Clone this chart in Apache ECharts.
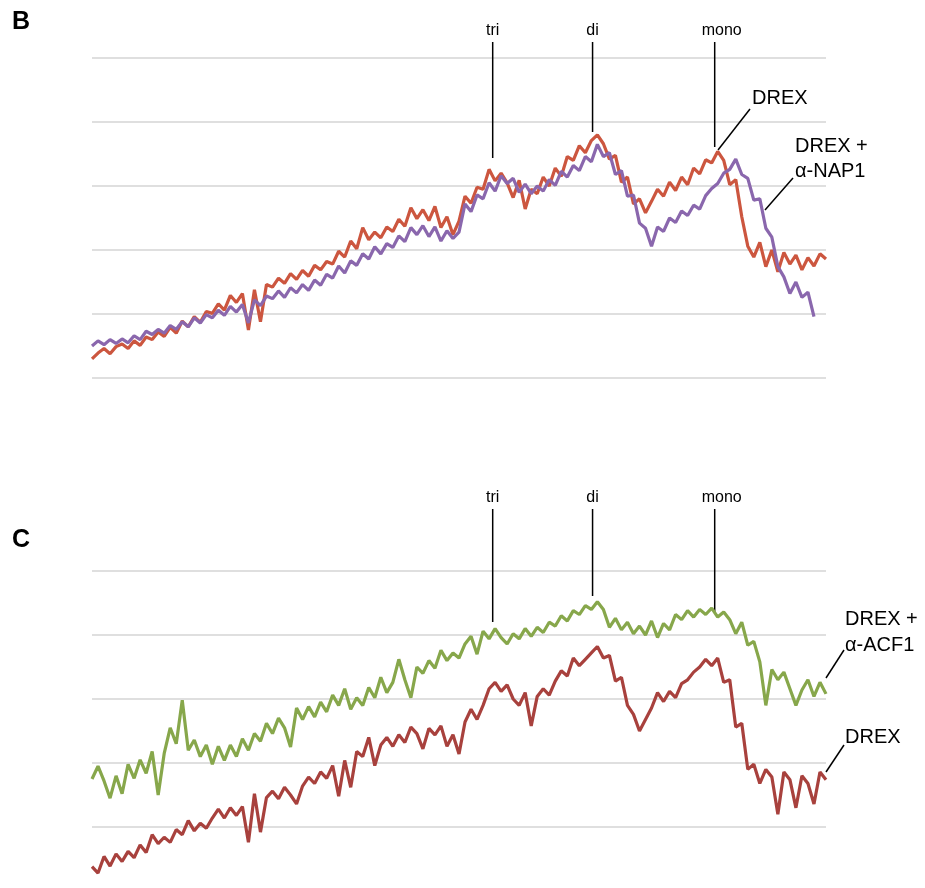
<!DOCTYPE html>
<html>
<head>
<meta charset="utf-8">
<script src="https://cdn.jsdelivr.net/npm/echarts@6/dist/echarts.min.js"></script>
<style>
html,body{margin:0;padding:0;background:#fff}
#chart{width:925px;height:888px}
</style>
</head>
<body>
<div id="chart"></div>
<script>
// panel B traces (arbitrary absorbance units, 10 per gridline)
const drexB = [
  3.0, 3.9, 4.6, 3.8, 4.9, 5.3, 4.6, 5.8, 5.1, 6.4,
  6.0, 7.2, 6.5, 7.9, 7.0, 8.9, 8.0, 9.6, 8.7, 10.4,
  10.1, 11.6, 10.6, 12.9, 11.8, 13.2, 7.5, 13.8, 8.8, 14.6,
  14.2, 15.6, 14.8, 16.3, 15.4, 16.8, 15.9, 17.6, 16.9, 18.2,
  17.8, 19.8, 18.9, 21.4, 20.2, 23.5, 21.6, 22.8, 21.9, 23.6,
  22.9, 24.8, 23.7, 26.6, 24.9, 26.3, 24.6, 26.8, 23.5, 25.2,
  22.4, 24.5, 28.4, 27.3, 29.8, 29.5, 32.6, 30.8, 32.0, 30.5,
  28.2, 30.9, 26.4, 29.5, 28.8, 31.4, 30.0, 32.8, 31.5, 34.6,
  34.0, 36.3, 35.2, 37.1, 38.0, 36.6, 34.2, 34.8, 30.6, 31.4,
  27.2, 28.0, 25.8, 27.6, 29.5, 28.4, 30.6, 29.3, 31.4, 30.2,
  32.8, 31.9, 34.1, 33.6, 35.4, 34.0, 30.2, 31.0, 25.2, 20.6,
  18.9, 21.2, 17.4, 20.0, 16.6, 19.6, 17.8, 19.2, 16.9, 18.8,
  17.5, 19.4, 18.6
];
const nap1B = [
  5.0, 5.8, 5.2, 6.0, 5.4, 6.1, 5.5, 6.6, 6.0, 7.3,
  6.8, 7.6, 7.0, 8.2, 7.6, 8.8, 8.0, 9.4, 8.6, 9.9,
  9.4, 10.6, 9.8, 11.2, 10.3, 11.5, 8.6, 12.2, 11.3, 12.8,
  12.4, 13.6, 12.6, 14.1, 13.3, 14.6, 13.7, 15.3, 14.5, 16.2,
  15.6, 17.5, 16.4, 18.3, 17.6, 19.4, 18.6, 20.5, 19.4, 21.0,
  20.4, 22.2, 21.3, 23.5, 22.4, 23.8, 22.1, 23.6, 21.4, 23.0,
  21.8, 22.8, 27.2, 26.0, 28.6, 28.0, 30.5, 29.2, 31.6, 30.4,
  31.2, 29.0, 30.3, 28.8, 30.0, 29.2, 31.0, 30.1, 32.3, 31.4,
  33.2, 32.4, 34.6, 33.8, 36.5, 34.6, 35.2, 31.8, 32.4, 28.4,
  28.6, 24.2, 23.4, 20.6, 23.6, 22.9, 25.0, 24.3, 26.1, 25.4,
  27.0, 26.4, 28.5, 29.6, 30.4, 32.0, 32.6, 34.2, 31.8, 31.2,
  27.8, 28.0, 23.4, 22.0, 17.4, 15.8, 13.2, 15.0, 12.6, 13.4,
  9.6
];
// panel C traces
const acf1C = [
  17.5, 19.5, 17.2, 14.5, 18.0, 15.2, 19.8, 17.6, 20.5, 18.4,
  21.8, 15.0, 21.5, 25.5, 23.0, 29.8, 22.0, 23.6, 21.0, 22.8,
  19.8, 22.6, 20.4, 22.8, 21.0, 23.8, 22.0, 24.6, 23.4, 26.2,
  24.6, 27.0, 25.5, 22.5, 28.6, 26.8, 28.8, 27.2, 29.5, 28.0,
  30.6, 29.0, 31.6, 28.4, 30.2, 29.0, 31.8, 30.2, 33.4, 31.0,
  32.6, 36.2, 33.0, 30.2, 35.0, 34.0, 36.0, 34.8, 37.6, 36.0,
  37.2, 36.4, 38.6, 39.8, 37.0, 40.6, 39.4, 41.0, 39.6, 38.6,
  40.2, 39.4, 41.0, 39.8, 41.2, 40.4, 42.0, 41.4, 43.0, 42.2,
  43.8, 43.2, 44.6, 44.0, 45.2, 44.0, 41.2, 42.6, 40.8, 42.0,
  40.2, 41.4, 40.0, 42.2, 39.6, 41.8, 40.8, 43.2, 42.4, 43.8,
  42.8, 44.0, 43.2, 44.2, 42.8, 43.6, 42.4, 40.2, 42.0, 38.4,
  39.0, 35.8, 29.0, 34.6, 33.0, 34.2, 31.6, 29.0, 31.4, 33.0,
  30.4, 32.6, 30.8
];
const drexC = [
  3.8, 2.8, 5.4, 3.9, 5.8, 4.6, 6.2, 5.2, 7.2, 6.0,
  8.8, 7.4, 8.4, 7.6, 9.6, 8.8, 11.0, 9.4, 10.6, 9.8,
  11.4, 12.8, 11.4, 13.0, 11.8, 13.2, 7.6, 15.2, 9.2, 14.6,
  15.6, 14.4, 16.2, 15.0, 13.6, 16.4, 17.8, 16.8, 18.6, 17.6,
  19.6, 14.8, 20.4, 16.2, 21.8, 21.0, 24.0, 19.6, 22.8, 24.0,
  22.6, 24.4, 23.2, 25.6, 24.6, 22.2, 25.4, 24.4, 25.8, 22.6,
  24.4, 21.4, 26.4, 28.4, 26.8, 29.0, 31.6, 32.6, 31.2, 32.2,
  30.0, 29.0, 31.0, 25.8, 30.4, 31.6, 30.6, 32.8, 34.4, 33.6,
  36.4, 35.2, 36.2, 37.2, 38.2, 36.4, 36.8, 32.8, 33.4, 29.0,
  27.6, 25.0, 26.8, 28.6, 31.0, 29.6, 31.2, 30.2, 32.4, 33.0,
  34.2, 35.0, 36.2, 35.2, 36.4, 32.6, 33.0, 25.6, 26.2, 19.0,
  19.8, 16.8, 19.0, 17.8, 12.0, 18.6, 17.4, 13.0, 18.0, 16.8,
  13.6, 18.6, 17.4
];
const peakNames = ['tri', 'di', 'mono'];
const peakFraction = [66.6, 83.2, 103.5];   // fraction index of each peak

const chart = echarts.init(document.getElementById('chart'));
const FONT = '"Liberation Sans", Arial, sans-serif';

const pairs = arr => arr.map((v, i) => [i, v]);
const mkAxisY = (g, lo) => ({
  type: 'value', gridIndex: g, min: lo, max: 50, interval: 10,
  axisLabel: { show: false }, axisLine: { show: false }, axisTick: { show: false },
  splitLine: { lineStyle: { color: '#d4d4d4', width: 1.5 } }
});
const mkAxisX = g => ({ type: 'value', gridIndex: g, min: 0, max: 122, show: false });
const trace = (g, data, color) => ({
  type: 'line', xAxisIndex: g, yAxisIndex: g, data: pairs(data),
  showSymbol: false, silent: true, clip: false,
  lineStyle: { color: color, width: 3.2 }
});

chart.setOption({
  animation: false,
  grid: [
    { left: 92, right: 99, top: 58, height: 320 },
    // panel C: bottom gridline is 10, trace runs below it
    { left: 92, right: 99, top: 571, height: 256 }
  ],
  xAxis: [mkAxisX(0), mkAxisX(1)],
  yAxis: [mkAxisY(0, 0), mkAxisY(1, 10)],
  series: [
    trace(0, drexB, '#cc563f'),
    trace(0, nap1B, '#8a67ad'),
    trace(1, acf1C, '#87a74b'),
    trace(1, drexC, '#a8413d')
  ]
});

// annotations
const g = [];
const txt = (x, y, s, size, align, weight) => g.push({
  type: 'text', x: x, y: y, silent: true,
  style: { text: s, fill: '#000', font: (weight || 'normal') + ' ' + size + 'px ' + FONT,
           textAlign: align || 'left', textVerticalAlign: 'middle' }
});
const seg = (x1, y1, x2, y2) => g.push({
  type: 'line', silent: true, shape: { x1: x1, y1: y1, x2: x2, y2: y2 },
  style: { stroke: '#000', lineWidth: 1.5 }
});

txt(12, 22, 'B', 25, 'left', 'bold');
txt(12, 540, 'C', 25, 'left', 'bold');

const tipB = [158, 132, 147];
const tipC = [622, 596, 612];
const labelShift = [0, 0, 7];
peakNames.forEach((name, k) => {
  const px = chart.convertToPixel({ gridIndex: 0 }, [peakFraction[k], 0])[0];
  txt(px + labelShift[k], 31, name, 16, 'center');
  seg(px, 42, px, tipB[k]);
  txt(px + labelShift[k], 498, name, 16, 'center');
  seg(px, 509, px, tipC[k]);
});

txt(752, 98, 'DREX', 20);
seg(750, 109, 718, 150);
txt(795, 146, 'DREX +', 20);
txt(795, 171, 'α-NAP1', 20);
seg(793, 178, 765, 210);

txt(845, 619, 'DREX +', 20);
txt(845, 645, 'α-ACF1', 20);
seg(844, 650, 826, 678);
txt(845, 737, 'DREX', 20);
seg(844, 745, 826, 772);

chart.setOption({ graphic: g });
</script>
</body>
</html>
